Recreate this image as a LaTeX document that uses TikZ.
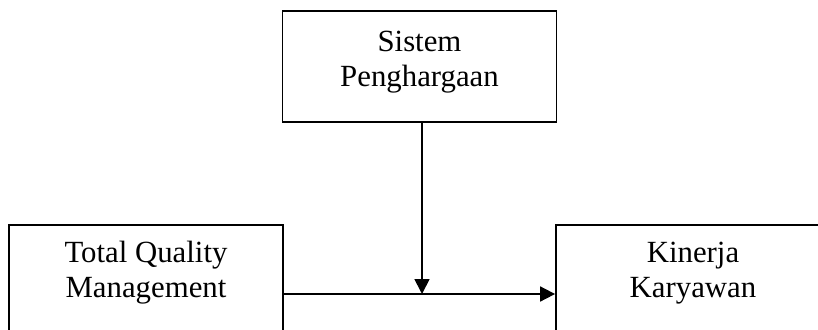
\documentclass[tikz,border=0pt]{standalone}
\usepackage{fontspec}
\setmainfont{Liberation Serif}
\usetikzlibrary{positioning,arrows.meta}

\begin{document}
\begin{tikzpicture}[x=1pt, y=-1pt,
    % Stile per i box delle variabili
    varbox/.style={
        rectangle,
        draw=black,
        line width=1.8pt,
        minimum width=274pt,
        minimum height=111pt,
        inner sep=0pt
    },
    % Stile per i testi dentro i box
    vartext/.style={
        align=center,
        inner sep=0pt,
        anchor=north,
        font=\fontsize{30.8}{35}\selectfont
    },
    % Stile per le frecce
    arrow/.style={-{Triangle[length=15pt,width=15pt]}, line width=1.8pt}
]

\useasboundingbox (0,0) rectangle (818,329);
\clip (0,0) rectangle (818,329);

% Variabile moderasi
\node[varbox] (sistem) at (419.5,66.5) {};
\node[vartext, below=21pt of sistem.north] (sistem_txt) {Sistem\\Penghargaan};

% Variabile indipendente
\node[varbox] (tqm) at (146,280.5) {};
\node[vartext, below=17pt of tqm.north] (tqm_txt) {Total Quality\\Management};

% Variabile dipendente
\node[varbox] (kinerja) at (693,280.5) {};
\node[vartext, below=18pt of kinerja.north] (kinerja_txt) {Kinerja\\Karyawan};

% Punto di incontro delle frecce
\coordinate (meet) at (422,294);

% Frecce
\draw[arrow] (tqm.east |- meet) -- (kinerja.west |- meet);
\draw[arrow] (sistem.south -| meet) -- (meet);

\end{tikzpicture}
\end{document}
